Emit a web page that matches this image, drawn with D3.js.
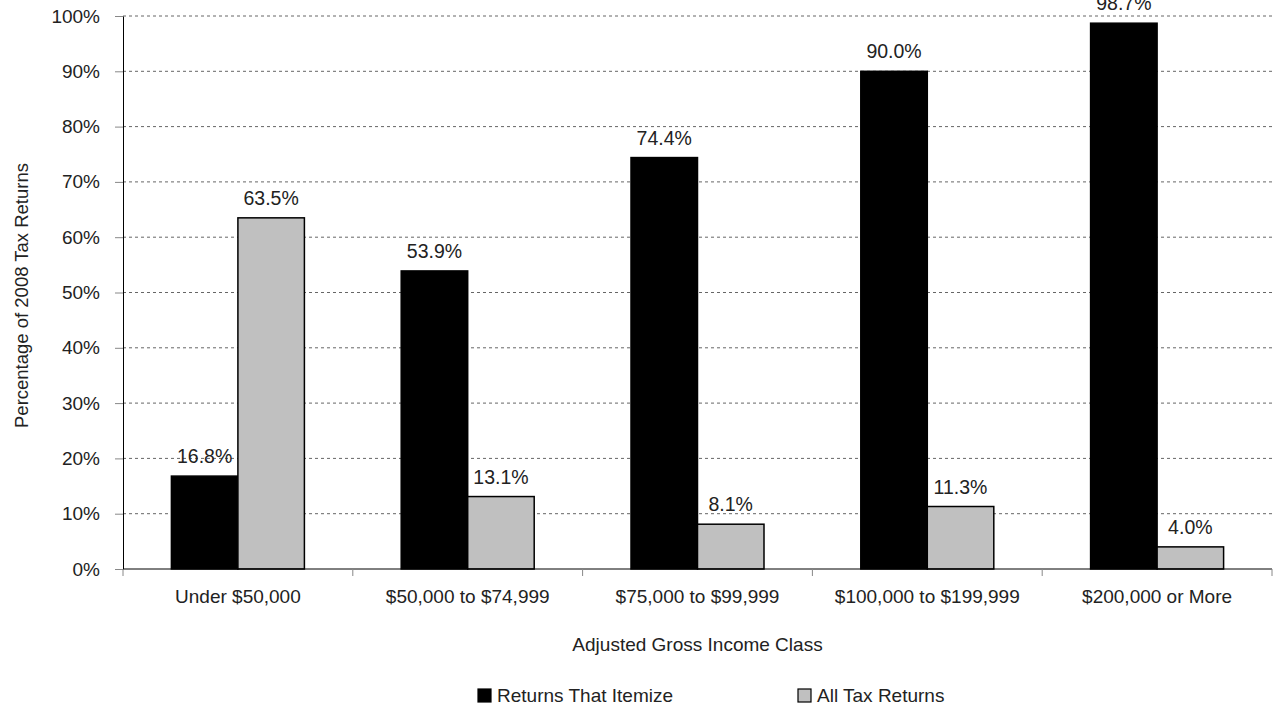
<!DOCTYPE html>
<html>
<head>
<meta charset="utf-8">
<script src="https://cdn.jsdelivr.net/npm/d3@7"></script>
<style>
  body { margin: 0; background: #fff; }
  svg text { font-family: "Liberation Sans", Arial, sans-serif; fill: #222; }
</style>
</head>
<body>
<div id="chart"></div>
<script>
const width = 1273;
const height = 708;

// data
const categories = ["Under $50,000", "$50,000 to $74,999", "$75,000 to $99,999", "$100,000 to $199,999", "$200,000 or More"];
const seriesNames = ["Returns That Itemize", "All Tax Returns"];
const itemize = [16.8, 53.9, 74.4, 90.0, 98.7];
const allReturns = [63.5, 13.1, 8.1, 11.3, 4.0];
const yTicks = [0, 10, 20, 30, 40, 50, 60, 70, 80, 90, 100];
const colors = ["#000000", "#c0c0c0"];

const margin = { top: 16, right: 1, bottom: 139, left: 123 };
const innerW = width - margin.left - margin.right;
const innerH = height - margin.top - margin.bottom;

const svg = d3.select("#chart")
  .append("svg")
  .attr("width", width)
  .attr("height", height);

const g = svg.append("g")
  .attr("transform", `translate(${margin.left},${margin.top})`);

const x = d3.scaleBand()
  .domain(categories)
  .range([0, innerW]);

// two bars take 133px of each 230px band
const x1 = d3.scaleBand()
  .domain(seriesNames)
  .range([0, 133])
  .padding(0);

const y = d3.scaleLinear()
  .domain([0, 100])
  .range([innerH, 0]);

// gridlines
g.selectAll(".grid")
  .data(yTicks.filter(d => d > 0))
  .enter()
  .append("line")
  .attr("x1", 0)
  .attr("x2", innerW)
  .attr("y1", d => y(d))
  .attr("y2", d => y(d))
  .attr("stroke", "#666")
  .attr("stroke-width", 1)
  .attr("stroke-dasharray", "3,3");

// y axis
const yAxis = g.append("g")
  .call(d3.axisLeft(y).tickValues(yTicks).tickFormat(d => d + "%").tickSize(8).tickSizeOuter(0));
yAxis.select(".domain").attr("stroke", "#000");
yAxis.selectAll(".tick line").attr("stroke", "#888");
yAxis.selectAll(".tick text")
  .attr("x", -23)
  .style("font-size", "19px");

// bars
const rows = categories.map((c, i) => [
  { s: seriesNames[0], v: itemize[i] },
  { s: seriesNames[1], v: allReturns[i] }
]);

const groups = g.selectAll(".group")
  .data(categories)
  .enter()
  .append("g")
  .attr("transform", d => `translate(${x(d) + x.bandwidth() / 2 - 66.5},0)`);

groups.each(function(c, i) {
  const grp = d3.select(this);
  grp.selectAll("rect")
    .data(rows[i])
    .enter()
    .append("rect")
    .attr("x", d => x1(d.s))
    .attr("y", d => y(d.v))
    .attr("width", x1.bandwidth())
    .attr("height", d => innerH - y(d.v))
    .attr("fill", (d, j) => colors[j])
    .attr("stroke", "#000")
    .attr("stroke-width", 1.5);

  grp.selectAll(".lbl")
    .data(rows[i])
    .enter()
    .append("text")
    .attr("x", d => x1(d.s) + x1.bandwidth() / 2)
    .attr("y", d => y(d.v) - 13)
    .attr("text-anchor", "middle")
    .style("font-size", "19.5px")
    .text(d => d.v.toFixed(1) + "%");
});

// x axis
const xAxis = g.append("g")
  .attr("transform", `translate(0,${innerH})`);
xAxis.append("line")
  .attr("x1", 0).attr("x2", innerW)
  .attr("stroke", "#000");
xAxis.selectAll(".xt")
  .data(d3.range(categories.length + 1))
  .enter()
  .append("line")
  .attr("x1", d => d * x.step())
  .attr("x2", d => d * x.step())
  .attr("y1", 0)
  .attr("y2", 7)
  .attr("stroke", "#888");
xAxis.selectAll(".xl")
  .data(categories)
  .enter()
  .append("text")
  .attr("x", d => x(d) + x.bandwidth() / 2)
  .attr("y", 34)
  .attr("text-anchor", "middle")
  .style("font-size", "19px")
  .text(d => d);

// axis titles
svg.append("text")
  .attr("x", margin.left + innerW / 2)
  .attr("y", 651)
  .attr("text-anchor", "middle")
  .style("font-size", "19px")
  .text("Adjusted Gross Income Class");

svg.append("text")
  .attr("transform", `translate(28,${margin.top + innerH / 2 + 3}) rotate(-90)`)
  .attr("text-anchor", "middle")
  .style("font-size", "18.5px")
  .text("Percentage of 2008 Tax Returns");

// legend
const legendX = [478, 798];
const legend = svg.selectAll(".legend")
  .data(seriesNames)
  .enter()
  .append("g")
  .attr("transform", (d, i) => `translate(${legendX[i]},689)`);
legend.append("rect")
  .attr("width", 13)
  .attr("height", 13)
  .attr("fill", (d, i) => colors[i])
  .attr("stroke", "#000")
  .attr("stroke-width", 1.2);
legend.append("text")
  .attr("x", 19)
  .attr("y", 13)
  .style("font-size", "19px")
  .text(d => d);
</script>
</body>
</html>
